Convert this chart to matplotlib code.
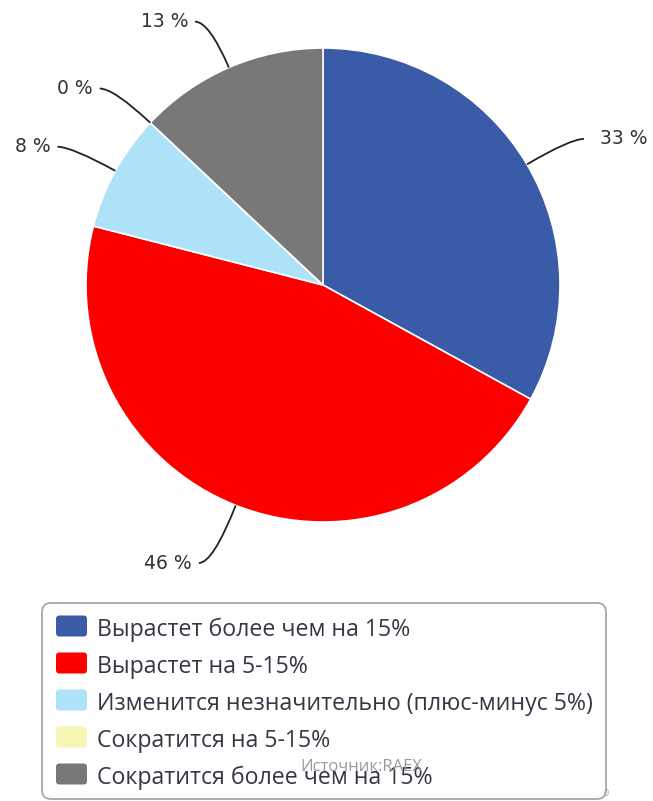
import numpy as np
import matplotlib
matplotlib.use('Agg')
import matplotlib.pyplot as plt
from matplotlib.patches import FancyBboxPatch, PathPatch
from matplotlib.path import Path

# data
categories = [
    "Вырастет более чем на 15%",
    "Вырастет на 5-15%",
    "Изменится незначительно (плюс-минус 5%)",
    "Сократится на 5-15%",
    "Сократится более чем на 15%",
]
values = [33, 46, 8, 0, 13]
colors = ["#3a5ca8", "#fc0000", "#aee2f8", "#f6f6b4", "#787878"]
source = "Источник:RAEX"

W, H = 653, 801
fig = plt.figure(figsize=(W / 100, H / 100), dpi=100)
ax = fig.add_axes([0, 0, 1, 1])

cx, cy, r = 323, H - 285, 237
wedges, _ = ax.pie(values, colors=colors, startangle=90, counterclock=False,
                   radius=r, center=(cx, cy), frame=True,
                   wedgeprops=dict(edgecolor="white", linewidth=1.2))
ax.set_xlim(0, W)
ax.set_ylim(0, H)
ax.axis("off")

# labels with curved connectors
for w, v in zip(wedges, values):
    a = np.deg2rad((w.theta1 + w.theta2) / 2)
    dist = 50 if np.sin(a) > 0 else 62
    ex, ey = cx + r * np.cos(a), cy + r * np.sin(a)
    kx, ky = cx + (r + dist) * np.cos(a), cy + (r + dist) * np.sin(a)
    side = 1 if np.cos(a) >= 0 else -1
    tx = kx + side * 14
    path = Path([(ex, ey), (kx, ky), (tx, ky)], [Path.MOVETO, Path.CURVE3, Path.CURVE3])
    ax.add_patch(PathPatch(path, fill=False, color="#222222", lw=1.3))
    gap = 16 if side > 0 else 7
    ax.text(tx + side * gap, ky, f"{v} %", ha="left" if side > 0 else "right",
            va="center", fontsize=13.5, color="#333333", family="DejaVu Sans")

# legend box
ax.add_patch(FancyBboxPatch((42, H - 799), 564, 196,
                            boxstyle="round,pad=0,rounding_size=9",
                            fc="white", ec="#a8a8a8", lw=1.3))
row_y = H - 626
step = 37
for i, (lab, c) in enumerate(zip(categories, colors)):
    y = row_y - i * step
    ax.add_patch(FancyBboxPatch((56, y - 10.5), 31, 21,
                                boxstyle="round,pad=0,rounding_size=3.5",
                                fc=c, ec="none"))
    ax.text(97, y - 10, lab, ha="left", va="baseline", fontsize=16.7,
            color="#363644", family="Open Sans")

ax.text(300, H - 767, source, ha="left", va="center",
        fontsize=12, color="#9a9a9a", family="Open Sans")
ax.text(606, H - 793, "0", ha="center", va="center",
        fontsize=6, color="#a0a0a0", family="DejaVu Sans")

fig.savefig("out.png", dpi=100)
